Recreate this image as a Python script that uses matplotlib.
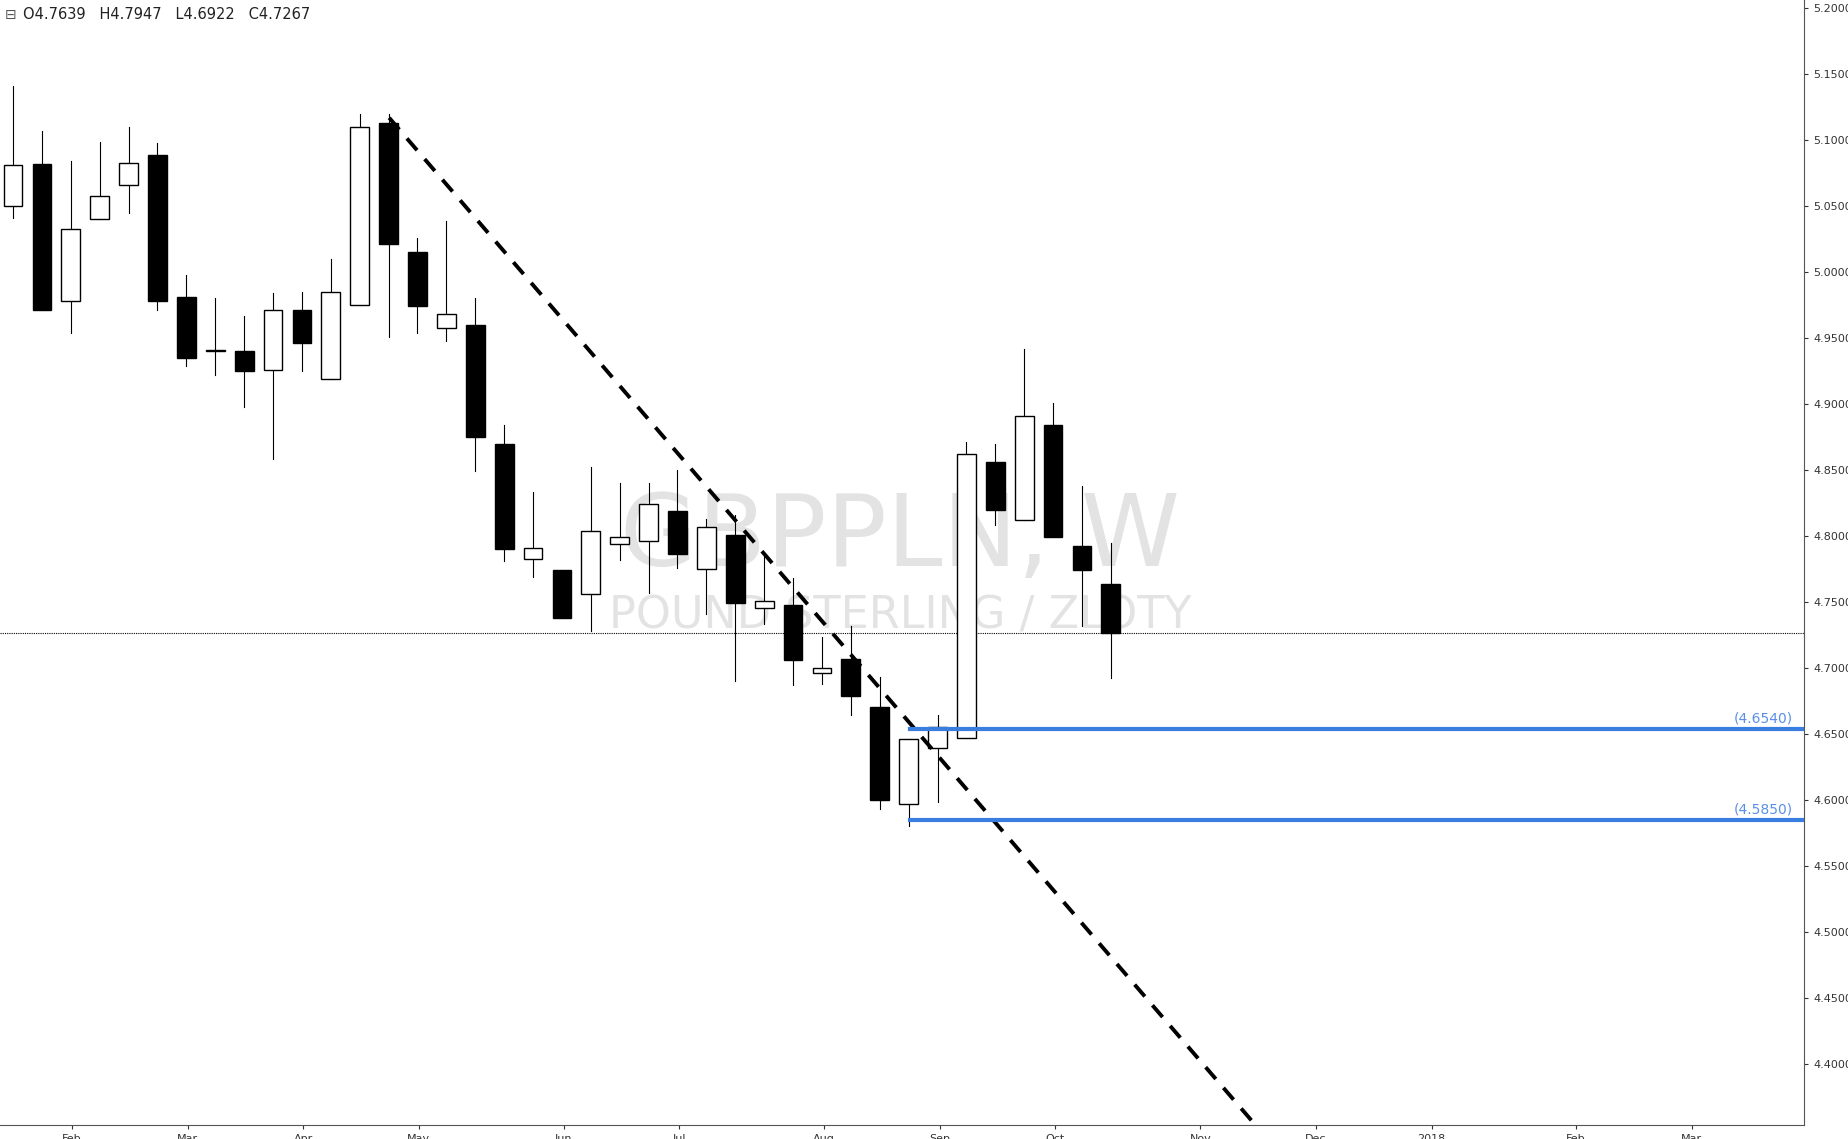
import matplotlib
matplotlib.use("Agg")
import matplotlib.pyplot as plt
from matplotlib.patches import Rectangle

# weekly candles, GBPPLN
opens = [5.0498, 5.082, 4.978, 5.040, 5.066, 5.089, 4.981, 4.941, 4.940, 4.926,
         4.971, 4.919, 4.975, 5.113, 5.015, 4.958, 4.960, 4.870, 4.7825, 4.774,
         4.756, 4.794, 4.796, 4.819, 4.775, 4.801, 4.745, 4.748, 4.696, 4.707,
         4.670, 4.597, 4.639, 4.647, 4.856, 4.812, 4.884, 4.792, 4.7639]
highs = [5.141, 5.107, 5.084, 5.099, 5.110, 5.098, 4.998, 4.980, 4.967, 4.984,
         4.985, 5.010, 5.120, 5.120, 5.026, 5.039, 4.980, 4.884, 4.833, 4.774,
         4.852, 4.840, 4.840, 4.850, 4.813, 4.816, 4.786, 4.768, 4.723, 4.732,
         4.693, 4.646, 4.664, 4.871, 4.870, 4.942, 4.901, 4.838, 4.7947]
lows = [5.041, 4.971, 4.954, 5.040, 5.045, 4.971, 4.929, 4.922, 4.898, 4.858,
        4.925, 4.919, 4.975, 4.951, 4.954, 4.948, 4.849, 4.781, 4.769, 4.738,
        4.728, 4.782, 4.757, 4.776, 4.741, 4.690, 4.733, 4.687, 4.688, 4.664,
        4.593, 4.580, 4.598, 4.647, 4.808, 4.812, 4.799, 4.732, 4.6922]
closes = [5.081, 4.971, 5.033, 5.058, 5.083, 4.978, 4.935, 4.940, 4.925, 4.971,
          4.946, 4.985, 5.110, 5.021, 4.974, 4.968, 4.875, 4.790, 4.7905, 4.738,
          4.804, 4.799, 4.824, 4.786, 4.807, 4.749, 4.751, 4.706, 4.700, 4.679,
          4.600, 4.646, 4.655, 4.862, 4.820, 4.891, 4.799, 4.774, 4.7267]

month_labels = ["Feb", "Mar", "Apr", "May", "Jun", "Jul", "Aug", "Sep", "Oct",
                "Nov", "Dec", "2018", "Feb", "Mar"]
month_pos = [2.04, 6.04, 10.04, 14.04, 19.06, 23.06, 28.08, 32.08, 36.08,
             41.1, 45.1, 49.1, 54.1, 58.1]

trend_x = [13.02, 42.94]
trend_y = [5.117, 4.355]
levels = [4.654, 4.585]
level_start = 31.06
last_close = 4.7267

fig = plt.figure(figsize=(18.49, 11.39), dpi=100)
ax = fig.add_axes([0.0, 0.0124, 0.9758, 0.9876])

width = 0.65
for i, (o, h, l, c) in enumerate(zip(opens, highs, lows, closes)):
    ax.plot([i, i], [l, h], color="black", lw=0.8, zorder=2)
    face = "white" if c >= o else "black"
    ax.add_patch(Rectangle((i - width / 2, min(o, c)), width, max(abs(c - o), 0.0008),
                           facecolor=face, edgecolor="black", lw=1, zorder=3))

ax.plot(trend_x, trend_y, color="black", lw=2.8, ls=(0, (4, 3)), zorder=4)
ax.axhline(last_close, color="black", lw=0.8, ls=(0, (1, 1)), zorder=1)
for lv in levels:
    ax.plot([level_start, 62.0], [lv, lv], color="#3a7de0", lw=3, zorder=4)
    ax.text(61.6, lv + 0.002, f"({lv:.4f})", color="#5b8fe6", fontsize=10,
            ha="right", va="bottom")

ax.text(30.7, 4.798, "GBPPLN, W", fontsize=72, color="#e3e3e3", ha="center",
        va="center", zorder=0)
ax.text(30.7, 4.739, "POUND STERLING / ZLOTY", fontsize=32, color="#e3e3e3",
        ha="center", va="center", zorder=0)

ax.set_xlim(-0.45, 62.0)
ax.set_ylim(4.3535, 5.2063)
ax.yaxis.tick_right()
ax.set_yticks([4.40 + 0.05 * k for k in range(17)])
ax.set_yticklabels([f"{4.40 + 0.05 * k:.4f}" for k in range(17)])
ax.set_xticks(month_pos)
ax.set_xticklabels(month_labels)
ax.tick_params(labelsize=8, colors="#333333", length=3)
for s in ["top", "left"]:
    ax.spines[s].set_visible(False)
ax.spines["right"].set_color("#555555")
ax.spines["bottom"].set_color("#555555")

fig.text(0.0125, 0.987, "O4.7639   H4.7947   L4.6922   C4.7267", fontsize=10.5,
         color="#222222", va="center")
fig.text(0.0025, 0.987, "\u229f", fontsize=10, color="#555555", va="center")

fig.savefig("out.png")
